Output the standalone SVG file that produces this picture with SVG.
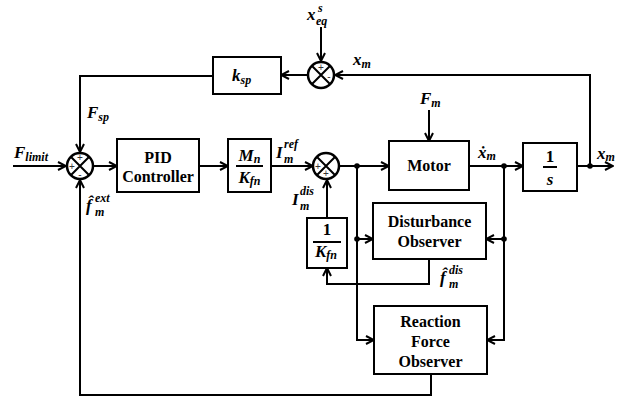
<svg xmlns="http://www.w3.org/2000/svg" width="630" height="402" viewBox="0 0 630 402">
<defs>
<style>
.box{fill:#fff;stroke:#000;stroke-width:2}
.ln{fill:none;stroke:#000;stroke-width:2}
.arr{fill:none;stroke:#000;stroke-width:2;marker-end:url(#ah)}
.sum{fill:#fff;stroke:#000;stroke-width:2.5}
.x{stroke:#000;stroke-width:2}
.bt{font-family:'Liberation Serif','DejaVu Serif',serif;font-weight:bold;font-size:16px;text-anchor:middle;fill:#000}
.m{font-family:'Liberation Serif','DejaVu Serif',serif;font-weight:bold;font-style:italic;font-size:17px;fill:#000}
.n{font-family:'Liberation Serif','DejaVu Serif',serif;font-weight:bold;font-size:17px;fill:#000;text-anchor:middle}
.s{font-size:12px}
.sg{font-family:'Liberation Sans','DejaVu Sans',sans-serif;font-size:10px;fill:#333;text-anchor:middle}
.dot{fill:#000}
</style>
<marker id="ah" viewBox="0 0 10 10" refX="9" refY="5" markerWidth="10" markerHeight="10" markerUnits="userSpaceOnUse" orient="auto">
<path d="M1,1 L9,5 L1,9" fill="none" stroke="#000" stroke-width="2"/>
</marker>
</defs>
<rect width="630" height="402" fill="#fff"/>

<g id="connectors">
<path class="arr" d="M13,166 H66"/>
<path class="arr" d="M213,76 H80 V152"/>
<path class="arr" d="M94,166 H117"/>
<path class="arr" d="M199,166 H228"/>
<path class="arr" d="M271,166 H313"/>
<path class="arr" d="M340,166 H389"/>
<path class="arr" d="M429,110 V141"/>
<path class="arr" d="M469,166 H523"/>
<path class="arr" d="M577,166 H613"/>
<path class="arr" d="M590,166 V75 H335"/>
<path class="arr" d="M321,27 V61"/>
<path class="arr" d="M307,75 H281"/>
<path class="arr" d="M357,166 V340 H374"/>
<path class="arr" d="M357,239 H373"/>
<path class="arr" d="M504,166 V340 H487"/>
<path class="arr" d="M504,239 H486"/>
<path class="arr" d="M429,259 V284 H327 V268"/>
<path class="arr" d="M327,218 V180"/>
<path class="arr" d="M431,374 V395 H80 V180"/>
<circle class="dot" cx="357" cy="166" r="2.8"/>
<circle class="dot" cx="357" cy="239" r="2.8"/>
<circle class="dot" cx="504" cy="166" r="2.8"/>
<circle class="dot" cx="504" cy="239" r="2.8"/>
<circle class="dot" cx="590" cy="166" r="2.8"/>
</g>

<g id="sum-left">
<circle class="sum" cx="80" cy="166" r="13"/>
<path class="x" d="M70.8,156.8 L89.2,175.2 M89.2,156.8 L70.8,175.2"/>
<text class="sg" x="80" y="161">+</text>
<text class="sg" x="72" y="169.5">+</text>
<text class="sg" x="80" y="178">-</text>
</g>

<g id="sum-mid">
<circle class="sum" cx="326" cy="166" r="13"/>
<path class="x" d="M316.8,156.8 L335.2,175.2 M335.2,156.8 L316.8,175.2"/>
<text class="sg" x="318" y="169.5">+</text>
<text class="sg" x="326" y="177">+</text>
</g>

<g id="sum-top">
<circle class="sum" cx="321" cy="75" r="13"/>
<path class="x" d="M311.8,65.8 L330.2,84.2 M330.2,65.8 L311.8,84.2"/>
<text class="sg" x="321" y="70.5">+</text>
<text class="sg" x="329" y="79.5">-</text>
</g>

<g id="ksp">
<rect class="box" x="213" y="57" width="68" height="37"/>
<text class="m" x="232" y="81">k<tspan class="s" dy="3">sp</tspan></text>
</g>

<g id="pid">
<rect class="box" x="117" y="139" width="82" height="53"/>
<text class="bt" x="158" y="163">PID</text>
<text class="bt" x="158" y="182">Controller</text>
</g>

<g id="mn-kfn">
<rect class="box" x="228" y="139" width="43" height="53"/>
<text class="m" x="249.5" y="161" text-anchor="middle">M<tspan class="s" dy="2">n</tspan></text>
<line class="ln" x1="236" y1="166" x2="263" y2="166" stroke-width="1"/>
<text class="m" x="249.5" y="183" text-anchor="middle">K<tspan class="s" dy="2">fn</tspan></text>
</g>

<g id="motor">
<rect class="box" x="389" y="141" width="80" height="49"/>
<text class="bt" x="429" y="171">Motor</text>
</g>

<g id="integrator">
<rect class="box" x="523" y="143" width="54" height="48"/>
<text class="n" x="550" y="162">1</text>
<line class="ln" x1="543" y1="167" x2="557" y2="167" stroke-width="1"/>
<text class="m" x="550" y="185" text-anchor="middle">s</text>
</g>

<g id="inv-kfn">
<rect class="box" x="307" y="218" width="40" height="50"/>
<text class="n" x="327" y="235">1</text>
<line class="ln" x1="313" y1="242" x2="341" y2="242" stroke-width="1"/>
<text class="m" x="326" y="257" text-anchor="middle">K<tspan class="s" dy="2">fn</tspan></text>
</g>

<g id="dob">
<rect class="box" x="373" y="203" width="113" height="56"/>
<text class="bt" x="429.5" y="227">Disturbance</text>
<text class="bt" x="429.5" y="247">Observer</text>
</g>

<g id="rfob">
<rect class="box" x="374" y="306" width="113" height="68"/>
<text class="bt" x="430.5" y="327">Reaction</text>
<text class="bt" x="430.5" y="347">Force</text>
<text class="bt" x="430.5" y="367">Observer</text>
</g>

<g id="labels">
<text class="m" x="307" y="20">x<tspan class="s" x="316" y="25">eq</tspan><tspan class="s" x="318" y="12" font-size="10">s</tspan></text>
<text class="m" x="14" y="158">F<tspan class="s" dy="3">limit</tspan></text>
<text class="m" x="87" y="118">F<tspan class="s" dy="3">sp</tspan></text>
<text class="m" x="353" y="65">x<tspan class="s" dy="3">m</tspan></text>
<text class="m" x="420" y="104">F<tspan class="s" dy="3">m</tspan></text>
<text class="m" x="276" y="158">I<tspan class="s" x="284" y="163">m</tspan><tspan class="s" x="284" y="148">ref</tspan></text>
<text class="m" x="292" y="205">I<tspan class="s" x="300" y="210">m</tspan><tspan class="s" x="300" y="195">dis</tspan></text>
<text class="m" x="478" y="158">ẋ<tspan class="s" dy="2">m</tspan></text>
<text class="m" x="597" y="159">x<tspan class="s" dy="2">m</tspan></text>
<text class="m" x="86" y="211">f&#x302;<tspan class="s" x="95" y="216">m</tspan><tspan class="s" x="95" y="202">ext</tspan></text>
<text class="m" x="440" y="283">f&#x302;<tspan class="s" x="449" y="288">m</tspan><tspan class="s" x="449" y="274">dis</tspan></text>
</g>
</svg>
